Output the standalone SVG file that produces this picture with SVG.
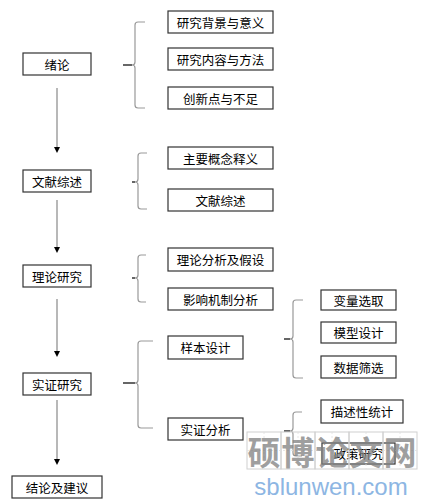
<svg xmlns="http://www.w3.org/2000/svg" width="435" height="503" viewBox="0 0 435 503">
<style>
.box{fill:#fff;stroke:#333;stroke-width:1.2}
.t{font-family:"Noto Sans CJK SC","Liberation Sans",sans-serif;font-size:12.5px;fill:#000;text-anchor:middle;dominant-baseline:central}
.flow{stroke:#b8b8b8;stroke-width:2;fill:none}
.brace{stroke:#999;stroke-width:1.2;fill:none}
.stub{stroke:#000;stroke-width:1.2}
.cell{fill:none;stroke:#d0d0d0;stroke-width:1}
.cross{stroke:#e0e0e0;stroke-width:0.8;stroke-dasharray:2 2}
.wm{font-family:"Noto Sans CJK SC",sans-serif;font-weight:700;font-size:33px;fill:#808080;fill-opacity:0.75;text-anchor:middle;dominant-baseline:central}
</style>
<rect width="435" height="503" fill="#fff"/>
<g id="connectors">
<line class="flow" x1="57" y1="88" x2="57" y2="147"/>
<path d="M54,147 L60,147 L57,153 Z" fill="#000"/>
<line class="flow" x1="57" y1="200" x2="57" y2="247"/>
<path d="M54,247 L60,247 L57,253 Z" fill="#000"/>
<line class="flow" x1="57" y1="299" x2="57" y2="351"/>
<path d="M54,351 L60,351 L57,357 Z" fill="#000"/>
<line class="flow" x1="57" y1="400" x2="57" y2="459"/>
<path d="M54,459 L60,459 L57,465 Z" fill="#000"/>
<path class="brace" d="M145,22 L138,22 Q135,22 135,25 L135,62 Q135,65 132,65 Q135,65 135,68 L135,105 Q135,108 138,108 L145,108"/>
<line class="stub" x1="123" y1="65" x2="132" y2="65"/>
<path class="brace" d="M147,153 L141,153 Q138,153 138,156 L138,179 Q138,182 135,182 Q138,182 138,185 L138,206 Q138,209 141,209 L147,209"/>
<line class="stub" x1="132" y1="182" x2="135" y2="182"/>
<path class="brace" d="M146,255 L141,255 Q138,255 138,258 L138,275 Q138,278 135,278 Q138,278 138,281 L138,299 Q138,302 141,302 L146,302"/>
<line class="stub" x1="132" y1="278" x2="135" y2="278"/>
<path class="brace" d="M153,341 L141,341 Q138,341 138,344 L138,380 Q138,383 135,383 Q138,383 138,386 L138,425 Q138,428 141,428 L153,428"/>
<line class="stub" x1="123" y1="383" x2="135" y2="383"/>
<path class="brace" d="M303,300 L296,300 Q293,300 293,303 L293,336 Q293,339 290,339 Q293,339 293,342 L293,375 Q293,378 296,378 L303,378"/>
<line class="stub" x1="284" y1="339" x2="290" y2="339"/>
<path class="brace" d="M302,412 L296,412 Q293,412 293,415 L293,428 Q293,431 290,431 Q293,431 293,434 L293,453 Q293,456 296,456 L302,456"/>
<line class="stub" x1="284" y1="431" x2="290" y2="431"/>
</g>
<g id="n1"><rect class="box" x="23" y="53" width="68" height="22"/><text class="t" x="57" y="64">绪论</text></g>
<g id="n2"><rect class="box" x="23" y="170" width="68" height="22"/><text class="t" x="57" y="181">文献综述</text></g>
<g id="n3"><rect class="box" x="23" y="265" width="68" height="22"/><text class="t" x="57" y="276">理论研究</text></g>
<g id="n4"><rect class="box" x="23" y="373" width="68" height="22"/><text class="t" x="57" y="384">实证研究</text></g>
<g id="n5"><rect class="box" x="12" y="476" width="90" height="22"/><text class="t" x="57" y="487">结论及建议</text></g>
<g id="r1"><rect class="box" x="168" y="11" width="105" height="22"/><text class="t" x="220.5" y="22">研究背景与意义</text></g>
<g id="r2"><rect class="box" x="168" y="48" width="105" height="22"/><text class="t" x="220.5" y="59">研究内容与方法</text></g>
<g id="r3"><rect class="box" x="168" y="87" width="105" height="22"/><text class="t" x="220.5" y="98">创新点与不足</text></g>
<g id="r4"><rect class="box" x="168" y="147" width="105" height="22"/><text class="t" x="220.5" y="158">主要概念释义</text></g>
<g id="r5"><rect class="box" x="168" y="189" width="105" height="22"/><text class="t" x="220.5" y="200">文献综述</text></g>
<g id="r6"><rect class="box" x="168" y="248" width="105" height="23"/><text class="t" x="220.5" y="259.5">理论分析及假设</text></g>
<g id="r7"><rect class="box" x="168" y="288" width="105" height="22"/><text class="t" x="220.5" y="299">影响机制分析</text></g>
<g id="r8"><rect class="box" x="168" y="336" width="75" height="23"/><text class="t" x="205.5" y="347.5">样本设计</text></g>
<g id="r9"><rect class="box" x="168" y="418" width="75" height="22"/><text class="t" x="205.5" y="429">实证分析</text></g>
<g id="s1"><rect class="box" x="321" y="290" width="75" height="20"/><text class="t" x="358.5" y="300">变量选取</text></g>
<g id="s2"><rect class="box" x="321" y="322" width="75" height="21"/><text class="t" x="358.5" y="332.5">模型设计</text></g>
<g id="s3"><rect class="box" x="321" y="356" width="75" height="22"/><text class="t" x="358.5" y="367">数据筛选</text></g>
<g id="s4"><rect class="box" x="321" y="400" width="82" height="23"/><text class="t" x="362" y="411.5">描述性统计</text></g>
<g id="s5"><rect class="box" x="322" y="443" width="73" height="21"/><text class="t" x="358.5" y="453.5">政策研究</text></g>
<g id="watermark">
<rect class="cell" x="247" y="432" width="34" height="37"/>
<rect class="cell" x="281" y="432" width="34" height="37"/>
<rect class="cell" x="315" y="432" width="34" height="37"/>
<rect class="cell" x="349" y="432" width="34" height="37"/>
<rect class="cell" x="383" y="432" width="34" height="37"/>
<line class="cross" x1="247" y1="450.5" x2="417" y2="450.5"/>
<line class="cross" x1="264" y1="432" x2="264" y2="469"/>
<line class="cross" x1="298" y1="432" x2="298" y2="469"/>
<line class="cross" x1="332" y1="432" x2="332" y2="469"/>
<line class="cross" x1="366" y1="432" x2="366" y2="469"/>
<line class="cross" x1="400" y1="432" x2="400" y2="469"/>
<text class="wm" x="264" y="451">硕</text>
<text class="wm" x="298" y="451">博</text>
<text class="wm" x="332" y="451">论</text>
<text class="wm" x="366" y="451">文</text>
<text class="wm" x="400" y="451">网</text>
<text x="331" y="495" font-family="Liberation Sans, Arial, sans-serif" font-size="24" fill="#8db6e3" text-anchor="middle">sblunwen.com</text>
</g>
</svg>
